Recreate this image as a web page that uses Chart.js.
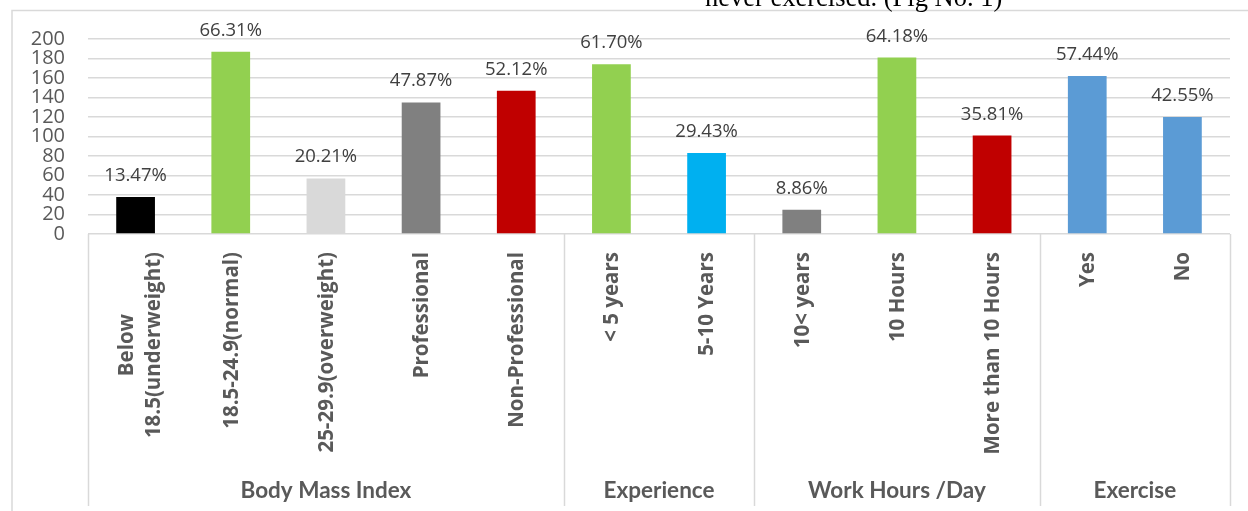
<!DOCTYPE html>
<html>
<head>
<meta charset="utf-8">
<title>Chart</title>
<script src="https://cdn.jsdelivr.net/npm/chart.js@4.4.0/dist/chart.umd.min.js"></script>
<style>
    html, body { margin: 0; padding: 0; background: #fff; }
    #wrap { position: relative; width: 1248px; height: 511px; }
</style>
</head>
<body>
<div id="wrap"><canvas id="chart"></canvas></div>
<script>
const categories = [
    ['Below', '18.5(underweight)'], '18.5-24.9(normal)', '25-29.9(overweight)', 'Professional', 'Non-Professional',
    '< 5 years', '5-10 Years',
    '10< years', '10 Hours', 'More than 10 Hours',
    'Yes', 'No'
];
const counts = [38, 187, 57, 135, 147, 174, 83, 25, 181, 101, 162, 120];
const percentLabels = ['13.47%', '66.31%', '20.21%', '47.87%', '52.12%', '61.70%', '29.43%', '8.86%', '64.18%', '35.81%', '57.44%', '42.55%'];
const barColors = ['#000000', '#92d050', '#d9d9d9', '#808080', '#c00000', '#92d050', '#00b0f0', '#808080', '#92d050', '#c00000', '#5b9bd5', '#5b9bd5'];
const groupNames = ['Body Mass Index', 'Experience', 'Work Hours /Day', 'Exercise'];
const groupSizes = [5, 2, 3, 2];
const yTicks = [0, 20, 40, 60, 80, 100, 120, 140, 160, 180, 200];
const captionText = 'never exercised. (Fig No. 1)';

const GRID = '#d9d9d9';
const LABEL = '#595959';

// frame, caption, category labels, group labels and value labels
const decorPlugin = {
    id: 'decor',
    afterDraw(chart) {
        const ctx = chart.ctx;
        const x = chart.scales.x;
        const area = chart.chartArea;
        const slot = x.getPixelForValue(1) - x.getPixelForValue(0);
        const axisBottom = x.bottom;

        ctx.save();

        // outer frame (cropped on the right and bottom)
        ctx.strokeStyle = GRID;
        ctx.lineWidth = 1.5;
        ctx.beginPath();
        ctx.moveTo(12, chart.height);
        ctx.lineTo(12, 10.5);
        ctx.lineTo(chart.width, 10.5);
        ctx.stroke();

        // clipped caption from the page above
        ctx.fillStyle = '#000';
        ctx.font = '26.5px "Liberation Serif", "Times New Roman", serif';
        ctx.textAlign = 'left';
        ctx.textBaseline = 'alphabetic';
        ctx.fillText(captionText, 705, 6);

        // group separators
        let idx = 0;
        const bounds = [x.getPixelForValue(0) - slot / 2];
        groupSizes.forEach(function (n) {
            idx += n;
            bounds.push(x.getPixelForValue(idx - 1) + slot / 2);
        });
        ctx.strokeStyle = GRID;
        ctx.lineWidth = 1.5;
        bounds.forEach(function (bx) {
            ctx.beginPath();
            ctx.moveTo(Math.round(bx) + 0.5, area.bottom);
            ctx.lineTo(Math.round(bx) + 0.5, axisBottom);
            ctx.stroke();
        });

        // rotated category labels
        ctx.fillStyle = LABEL;
        ctx.font = 'bold 20.5px "Open Sans", sans-serif';
        ctx.textBaseline = 'middle';
        ctx.textAlign = 'center';
        const lineH = 27;
        categories.forEach(function (cat, i) {
            const lines = Array.isArray(cat) ? cat : [cat];
            const maxW = Math.max.apply(null, lines.map(function (l) { return ctx.measureText(l).width; }));
            const shift = lines.length > 1 ? 5 : 1;
            const cx = x.getPixelForValue(i);
            ctx.save();
            ctx.translate(cx, area.bottom + 18);
            ctx.rotate(-Math.PI / 2);
            lines.forEach(function (l, j) {
                ctx.fillText(l, -maxW / 2, (j - (lines.length - 1) / 2) * lineH + shift);
            });
            ctx.restore();
        });

        // group names
        ctx.font = 'bold 22.5px Lato, sans-serif';
        ctx.textBaseline = 'alphabetic';
        groupNames.forEach(function (g, i) {
            ctx.fillText(g, (bounds[i] + bounds[i + 1]) / 2, 498);
        });

        // value labels above bars
        const meta = chart.getDatasetMeta(0);
        ctx.fillStyle = '#404040';
        ctx.font = '18.5px "Open Sans", sans-serif';
        meta.data.forEach(function (bar, i) {
            ctx.fillText(percentLabels[i], bar.x, bar.y - 16);
        });

        ctx.restore();
    }
};

new Chart(document.getElementById('chart'), {
    type: 'bar',
    data: {
        labels: categories,
        datasets: [{
            data: counts,
            backgroundColor: barColors,
            barPercentage: 0.407,
            categoryPercentage: 1
        }]
    },
    options: {
        responsive: true,
        maintainAspectRatio: false,
        animation: false,
        layout: { padding: { left: 12, right: 18, top: 39, bottom: 5 } },
        plugins: { legend: { display: false }, tooltip: { enabled: false } },
        scales: {
            x: {
                offset: true,
                grid: { display: false },
                border: { display: false },
                ticks: { display: false },
                afterFit: function (scale) { scale.height = 272; }
            },
            y: {
                min: yTicks[0],
                max: yTicks[yTicks.length - 1],
                afterBuildTicks: function (scale) {
                    scale.ticks = yTicks.map(function (v) { return { value: v }; });
                },
                grid: { color: GRID, lineWidth: 1.5, drawTicks: false },
                border: { display: false },
                ticks: {
                    autoSkip: false,
                    padding: 23,
                    color: LABEL,
                    font: { family: 'Open Sans', size: 20 }
                },
                afterFit: function (scale) { scale.width = 76; }
            }
        }
    },
    plugins: [decorPlugin]
});
</script>
</body>
</html>
